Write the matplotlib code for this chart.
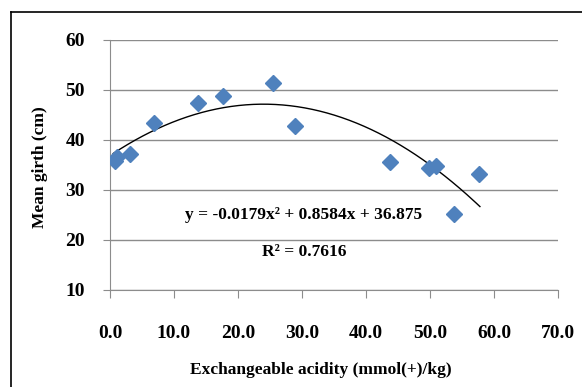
import matplotlib
matplotlib.use("Agg")
import matplotlib.pyplot as plt
import numpy as np
from matplotlib.lines import Line2D

acidity = [0.8, 1.1, 3.1, 6.8, 13.8, 17.7, 25.5, 28.9, 43.8, 49.8, 51.0, 53.8, 57.7]
girth = [35.9, 36.7, 37.3, 43.5, 47.4, 48.8, 51.5, 42.8, 35.6, 34.4, 34.8, 25.2, 33.3]
coef = [-0.0179, 0.8584, 36.875]
x_ticks = [0, 10, 20, 30, 40, 50, 60, 70]
y_ticks = [10, 20, 30, 40, 50, 60]

W, H = 582, 387
fig = plt.figure(figsize=(W / 100, H / 100), dpi=100)
font = "Liberation Serif"

ax = fig.add_axes([110 / W, 1 - 290 / H, (558 - 110) / W, (290 - 40) / H])
ax.set_xlim(0, 70)
ax.set_ylim(10, 60)

xs = np.linspace(0.5, 57.8, 200)
ax.plot(xs, np.polyval(coef, xs), color="black", lw=1.0, zorder=2)
ax.plot(acidity, girth, linestyle="none", marker="D", markersize=8,
        color="#4F81BD", markeredgecolor="#4F81BD", zorder=3)

ax.set_xticks(x_ticks)
ax.set_yticks(y_ticks)
ax.set_xticklabels([f"{v:.1f}" for v in x_ticks])
ax.set_yticklabels([str(v) for v in y_ticks])
ax.grid(axis="y", color="#8c8c8c", lw=1.0)
ax.set_axisbelow(True)
for s in ["top", "right"]:
    ax.spines[s].set_visible(False)
for s in ["left", "bottom"]:
    ax.spines[s].set_color("#8c8c8c")
ax.tick_params(axis="x", length=6, color="#8c8c8c", pad=19, direction="out")
ax.tick_params(axis="y", length=5, color="#8c8c8c", pad=13, direction="out")
for lab in ax.get_xticklabels() + ax.get_yticklabels():
    lab.set_fontfamily(font)
    lab.set_fontweight("bold")
    lab.set_fontsize(14)

ax.set_xlabel("Exchangeable acidity (mmol(+)/kg)", fontfamily=font,
              fontweight="bold", fontsize=12.5, va="center")
ax.set_ylabel("Mean girth (cm)", fontfamily=font, fontweight="bold",
              fontsize=12.5, va="center")
ax.xaxis.set_label_coords((321 - 110) / 448, (290 - 370) / 250)
ax.yaxis.set_label_coords((40 - 110) / 448, (290 - 167) / 250)

ax.text(304 / W, 1 - 215 / H, "y = -0.0179x² + 0.8584x + 36.875",
        transform=fig.transFigure, ha="center", va="center",
        fontfamily=font, fontweight="bold", fontsize=12.5)
ax.text(304 / W, 1 - 252 / H, "R² = 0.7616", transform=fig.transFigure,
        ha="center", va="center", fontfamily=font, fontweight="bold", fontsize=12.5)

fig.add_artist(Line2D([11 / W, 11 / W], [0, 1 - 12 / H], color="black", lw=1.2,
                      transform=fig.transFigure))
fig.add_artist(Line2D([11 / W, 1], [1 - 12 / H, 1 - 12 / H], color="black", lw=1.2,
                      transform=fig.transFigure))

fig.savefig("out.png", dpi=100)
